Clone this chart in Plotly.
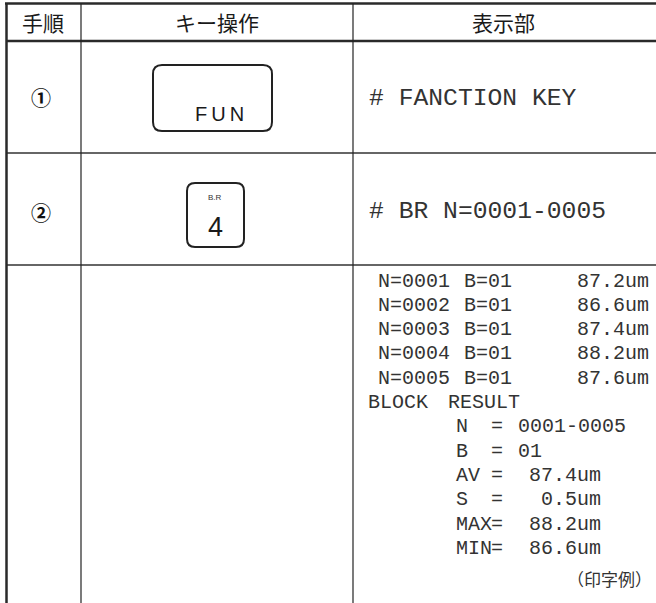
import plotly.graph_objects as go

# ---------------- data ----------------
headers = ["手順", "キー操作", "表示部"]
steps = ["①", "②"]
key_top_labels = ["", "B.R"]
key_main_labels = ["F\u2009U\u2009N", "4"]
display_lines = ["# FANCTION KEY", "# BR N=0001-0005"]
meas_n = ["0001", "0002", "0003", "0004", "0005"]
meas_b = ["01", "01", "01", "01", "01"]
meas_um = [87.2, 86.6, 87.4, 88.2, 87.6]
block_title = ["BLOCK", "RESULT"]
result_labels = ["N", "B", "AV", "S", "MAX", "MIN"]
result_values = ["0001-0005", "01", "87.4um", "0.5um", "88.2um", "86.6um"]
caption = "（印字例）"

# ---------------- layout constants ----------------
W, H = 656, 603
LEFT, COL1, COL2, RIGHT = 6.5, 81, 353, 656
TOP, HEAD_B, ROW1_B, ROW2_B = 3.5, 41, 153, 265
ROW_MID = [97, 212]
MONO = "Liberation Mono"
CJK = "Noto Sans CJK JP"
INK = "#222"
DOT = "#333"

fig = go.Figure()
shapes = []


def hline(y, x0, x1, w, c):
    shapes.append(dict(type="line", xref="x", yref="y", x0=x0, x1=x1, y0=y, y1=y,
                       line=dict(color=c, width=w)))


def vline(x, y0, y1, w, c):
    shapes.append(dict(type="line", xref="x", yref="y", x0=x, x1=x, y0=y0, y1=y1,
                       line=dict(color=c, width=w)))


def rrect(x0, y0, x1, y1, r):
    p = (f"M {x0+r},{y0} L {x1-r},{y0} Q {x1},{y0} {x1},{y0+r} "
         f"L {x1},{y1-r} Q {x1},{y1} {x1-r},{y1} L {x0+r},{y1} "
         f"Q {x0},{y1} {x0},{y1-r} L {x0},{y0+r} Q {x0},{y0} {x0+r},{y0} Z")
    shapes.append(dict(type="path", xref="x", yref="y", path=p,
                       line=dict(color=INK, width=2), fillcolor="rgba(0,0,0,0)"))


# table grid
hline(TOP, LEFT - 1.5, RIGHT, 2.5, "#2a2a2a")
hline(HEAD_B, LEFT, RIGHT, 2.5, "#2a2a2a")
hline(ROW1_B, LEFT, RIGHT, 1.8, "#666")
hline(ROW2_B, LEFT, RIGHT, 1.8, "#666")
vline(LEFT, TOP, H, 2.5, "#2a2a2a")
vline(COL1, TOP, H, 1.2, INK)
vline(COL2, TOP, H, 1.2, INK)

# key boxes
rrect(153, 65, 272, 131, 9)
rrect(187, 183, 244, 247, 8)

ann = []


def text(x, y, s, size, font, color=INK, xanchor="center", weight=None):
    f = dict(size=size, family=font, color=color)
    if weight:
        f["weight"] = weight
    ann.append(dict(x=x, y=y, xref="x", yref="y", text=s, showarrow=False,
                    xanchor=xanchor, yanchor="middle", font=f))


# headers
for xc, h in zip([43, 217, 503], headers):
    text(xc, 22, h, 21, CJK, "#1a1a1a")

# step numbers
for y, s in zip(ROW_MID, steps):
    text(41, y, s, 20, CJK, "#111", weight="bold")

# keys
text(219, 114, key_main_labels[0], 20, "Liberation Sans", "#1a1a1a")
text(215, 197, key_top_labels[1], 8, "Liberation Sans", "#333")
text(215, 227, key_main_labels[1], 27, "Liberation Sans", "#1a1a1a")

# display rows 1-2
text(367, 98, display_lines[0], 24.7, MONO, DOT, "left")
text(367, 211, display_lines[1], 24.7, MONO, DOT, "left")

# display row 3: measurements
LINE0, STEP = 281, 24.3
for i, (n, b, v) in enumerate(zip(meas_n, meas_b, meas_um)):
    y = LINE0 + i * STEP
    text(376, y, f"N={n}", 20, MONO, DOT, "left")
    text(462, y, f"B={b}", 20, MONO, DOT, "left")
    text(651, y, f"{v:.1f}um", 20, MONO, DOT, "right")

y = LINE0 + len(meas_n) * STEP
text(366, y, block_title[0], 20, MONO, DOT, "left")
text(446, y, block_title[1], 20, MONO, DOT, "left")

for j, (lab, val) in enumerate(zip(result_labels, result_values)):
    y = LINE0 + (len(meas_n) + 1 + j) * STEP
    text(454, y, lab, 20, MONO, DOT, "left")
    text(497, y, "=", 20, MONO, DOT, "center")
    if val.endswith("um"):
        text(603, y, val, 20, MONO, DOT, "right")
    else:
        text(516, y, val, 20, MONO, DOT, "left")

text(654, 578, caption, 17, CJK, "#333", "right")

fig.update_layout(
    width=W, height=H, margin=dict(l=0, r=0, t=0, b=0),
    paper_bgcolor="white", plot_bgcolor="white",
    xaxis=dict(range=[0, W], visible=False, fixedrange=True),
    yaxis=dict(range=[H, 0], visible=False, fixedrange=True),
    shapes=shapes, annotations=ann, showlegend=False,
)
fig.write_html(
    "out.html",
    config={"displayModeBar": False},
    post_script="document.body.style.margin='0';document.body.style.overflow='hidden';",
)
